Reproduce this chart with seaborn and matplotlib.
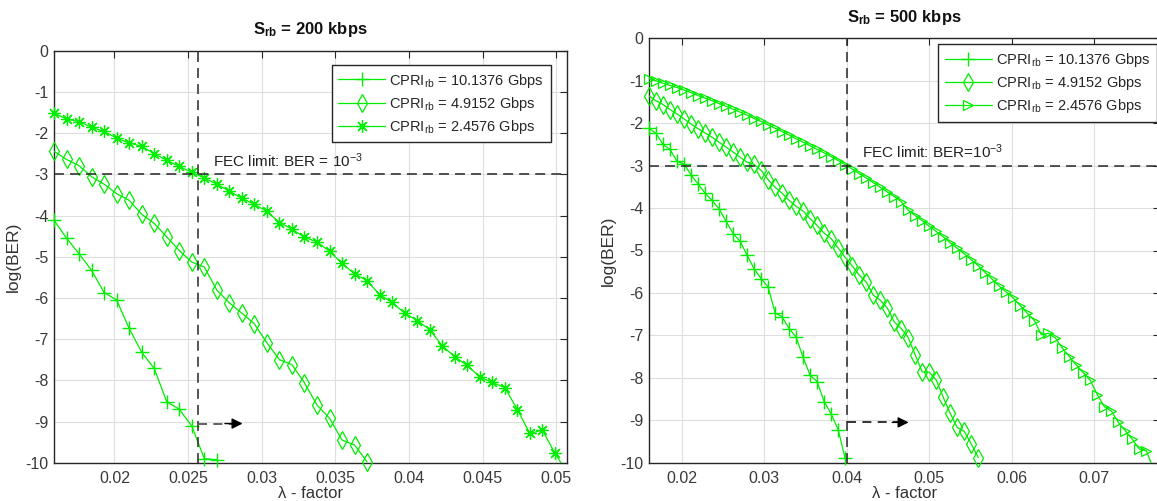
import matplotlib
matplotlib.use("Agg")
import matplotlib.pyplot as plt
from matplotlib.lines import Line2D
import seaborn as sns

# ---------------------------------------------------------------- data
# lambda-factor sweep, S_rb = 200 kbps
lam_200 = [0.01590, 0.01675, 0.01760, 0.01845, 0.01930, 0.02015, 0.02100,
           0.02185, 0.02270, 0.02355, 0.02440, 0.02525, 0.02610, 0.02695,
           0.02780, 0.02865, 0.02950, 0.03035, 0.03120, 0.03205, 0.03290,
           0.03375, 0.03460, 0.03545, 0.03630, 0.03715, 0.03800, 0.03885,
           0.03970, 0.04055, 0.04140, 0.04225, 0.04310, 0.04395, 0.04480,
           0.04565, 0.04650, 0.04735, 0.04820, 0.04905, 0.04990, 0.05075]

# log(BER) for S_rb = 200 kbps
ber_200_10g = [-4.11, -4.55, -4.93, -5.33, -5.87, -6.05, -6.74, -7.32, -7.71,
               -8.52, -8.70, -9.11, -9.90, -9.93]
ber_200_4g = [-2.44, -2.64, -2.79, -3.06, -3.24, -3.47, -3.63, -3.97, -4.19,
              -4.52, -4.85, -5.13, -5.25, -5.81, -6.12, -6.37, -6.63, -7.09,
              -7.50, -7.62, -8.06, -8.60, -8.92, -9.45, -9.57, -9.98]
ber_200_2g = [-1.51, -1.66, -1.72, -1.86, -1.96, -2.12, -2.24, -2.32, -2.50,
              -2.66, -2.81, -2.95, -3.09, -3.24, -3.41, -3.58, -3.73, -3.90,
              -4.17, -4.33, -4.53, -4.64, -4.87, -5.16, -5.42, -5.58, -5.92,
              -6.11, -6.37, -6.55, -6.77, -7.16, -7.43, -7.64, -7.92, -8.05,
              -8.18, -8.71, -9.29, -9.21, -9.77, -10.25]

# lambda-factor sweep, S_rb = 500 kbps
lam_500 = [0.01600, 0.01685, 0.01770, 0.01855, 0.01940, 0.02025, 0.02110,
           0.02195, 0.02280, 0.02365, 0.02450, 0.02535, 0.02620, 0.02705,
           0.02790, 0.02875, 0.02960, 0.03045, 0.03130, 0.03215, 0.03300,
           0.03385, 0.03470, 0.03555, 0.03640, 0.03725, 0.03810, 0.03895,
           0.03980, 0.04065, 0.04150, 0.04235, 0.04320, 0.04405, 0.04490,
           0.04575, 0.04660, 0.04745, 0.04830, 0.04915, 0.05000, 0.05085,
           0.05170, 0.05255, 0.05340, 0.05425, 0.05510, 0.05595, 0.05680,
           0.05765, 0.05850, 0.05935, 0.06020, 0.06105, 0.06190, 0.06275,
           0.06360, 0.06445, 0.06530, 0.06615, 0.06700, 0.06785, 0.06870,
           0.06955, 0.07040, 0.07125, 0.07210, 0.07295, 0.07380, 0.07465,
           0.07550, 0.07635, 0.07720]

# log(BER) for S_rb = 500 kbps
ber_500_10g = [-2.12, -2.24, -2.50, -2.62, -2.90, -2.96, -3.22, -3.43, -3.65,
               -3.82, -4.02, -4.31, -4.60, -4.78, -5.11, -5.43, -5.66, -5.86,
               -6.47, -6.56, -6.84, -7.04, -7.52, -7.94, -8.09, -8.56, -8.85,
               -9.22, -9.90]
ber_500_4g = [-1.36, -1.47, -1.56, -1.68, -1.78, -1.90, -2.02, -2.13, -2.23,
              -2.33, -2.45, -2.56, -2.68, -2.80, -2.92, -2.97, -3.11, -3.33,
              -3.51, -3.65, -3.82, -3.96, -4.07, -4.25, -4.41, -4.59, -4.72,
              -4.94, -5.16, -5.36, -5.58, -5.74, -6.05, -6.17, -6.35, -6.68,
              -6.84, -7.05, -7.46, -7.86, -7.87, -8.05, -8.46, -8.84, -9.17,
              -9.26, -9.56, -9.88]
ber_500_2g = [-0.95, -1.00, -1.06, -1.11, -1.16, -1.22, -1.28, -1.35, -1.41,
              -1.47, -1.54, -1.60, -1.67, -1.74, -1.81, -1.89, -1.96, -2.04,
              -2.12, -2.20, -2.28, -2.37, -2.45, -2.53, -2.62, -2.70, -2.79,
              -2.88, -2.98, -3.08, -3.19, -3.29, -3.40, -3.51, -3.62, -3.73,
              -3.85, -4.05, -4.18, -4.30, -4.43, -4.55, -4.68, -4.82, -4.95,
              -5.08, -5.22, -5.36, -5.52, -5.68, -5.84, -5.98, -6.12, -6.30,
              -6.48, -6.65, -6.98, -6.95, -7.06, -7.30, -7.50, -7.70, -7.88,
              -8.06, -8.40, -8.68, -8.78, -9.05, -9.25, -9.45, -9.68, -9.72,
              -10.15]

series_labels = [r"CPRI$_{\mathrm{rb}}$ = 10.1376 Gbps",
                 r"CPRI$_{\mathrm{rb}}$ = 4.9152 Gbps",
                 r"CPRI$_{\mathrm{rb}}$ = 2.4576 Gbps"]

titles = [r"S$_{\mathbf{rb}}$ = 200 kbps", r"S$_{\mathbf{rb}}$ = 500 kbps"]
fec_texts = [r"FEC limit: BER = 10$^{-3}$", r"FEC limit: BER=10$^{-3}$"]

fec_limit = -3.0
lam_cut = [0.0257, 0.0400]          # lambda at which the 2.4576 Gbps curve meets the FEC limit
arrow_level = -9.05
arrow_end = [0.0287, 0.0475]
fec_text_pos = [(0.0267, -2.82), (0.0419, -2.83)]

xticks_200 = [0.02, 0.025, 0.03, 0.035, 0.04, 0.045, 0.05]
xticklabels_200 = ["0.02", "0.025", "0.03", "0.035", "0.04", "0.045", "0.05"]
xticks_500 = [0.02, 0.03, 0.04, 0.05, 0.06, 0.07]
xticklabels_500 = ["0.02", "0.03", "0.04", "0.05", "0.06", "0.07"]
yticks = [0, -1, -2, -3, -4, -5, -6, -7, -8, -9, -10]
yticklabels = ["0", "-1", "-2", "-3", "-4", "-5", "-6", "-7", "-8", "-9", "-10"]

# ---------------------------------------------------------------- style
sns.set_theme(style="whitegrid")
plt.rcParams["font.family"] = ["Liberation Sans", "DejaVu Sans"]
plt.rcParams["mathtext.fontset"] = "custom"
plt.rcParams["mathtext.rm"] = "Liberation Sans"
plt.rcParams["mathtext.it"] = "Liberation Sans:italic"
plt.rcParams["mathtext.bf"] = "Liberation Sans:bold"
plt.rcParams["axes.unicode_minus"] = False

GREEN = "#00ee00"
DARK = "#262626"
TICK_TXT = "#3a3a3a"

W, H = 1157, 501
fig = plt.figure(figsize=(W / 100, H / 100), dpi=100)
fig.patch.set_facecolor("white")

# axes boxes in pixels: left, right, top, bottom
boxes = [(54, 566.7, 50.7, 462.7), (649, 1160, 38.3, 462.7)]
axes = []
for l, r, t, b in boxes:
    axes.append(fig.add_axes([l / W, (H - b) / H, (r - l) / W, (b - t) / H]))

marker_styles = [
    [dict(marker="+", markersize=9.5, mew=1.0),
     dict(marker="d", markersize=9, mew=0.9, mfc="none"),
     dict(marker=(8, 2, 0), markersize=9, mew=0.9)],
    [dict(marker="+", markersize=9.5, mew=1.0),
     dict(marker="d", markersize=9, mew=0.9, mfc="none"),
     dict(marker=">", markersize=7.5, mew=0.9, mfc="none")],
]

panels = [
    (lam_200, [ber_200_10g, ber_200_4g, ber_200_2g], (0.0159, 0.0507),
     xticks_200, xticklabels_200, (0.5416, 0.9653)),
    (lam_500, [ber_500_10g, ber_500_4g, ber_500_2g], (0.0160, 0.0780),
     xticks_500, xticklabels_500, (0.5662, 0.9859)),
]

for i, (ax, (lam, curves, xlim, xt, xtl, leg_anchor)) in enumerate(zip(axes, panels)):
    ax.set_facecolor("white")
    handles = []
    for ber, mst in zip(curves, marker_styles[i]):
        x = lam[:len(ber)]
        # connecting line (clipped to the axes)
        sns.lineplot(x=x, y=ber, ax=ax, color=GREEN, lw=0.9, sort=False,
                     estimator=None, zorder=3)
        # markers drawn unclipped for the points inside the y range
        keep = [k for k, v in enumerate(ber) if v >= -10]
        sns.lineplot(x=[x[k] for k in keep], y=[ber[k] for k in keep], ax=ax,
                     color=GREEN, linestyle="none", sort=False, estimator=None,
                     mec=GREEN, clip_on=False, zorder=4, **mst)
        handles.append(Line2D([], [], color=GREEN, lw=0.9, mec=GREEN, **mst))

    # FEC limit and the corresponding lambda
    ax.axhline(fec_limit, color=DARK, lw=1.1, dashes=(6.5, 4), zorder=5)
    ax.axvline(lam_cut[i], color=DARK, lw=1.1, dashes=(6.5, 4), zorder=5)
    ax.plot([lam_cut[i], arrow_end[i] - (0.0006 if i == 0 else 0.0012)],
            [arrow_level, arrow_level],
            color="#555555" if i == 0 else DARK, lw=1.3, dashes=(5, 3.5), zorder=5)
    ax.annotate("", xy=(arrow_end[i], arrow_level),
                xytext=(arrow_end[i] - (0.0012 if i == 0 else 0.0020), arrow_level),
                arrowprops=dict(arrowstyle="-|>", color="black", lw=1.0,
                                mutation_scale=16, shrinkA=0, shrinkB=0),
                zorder=6)
    ax.text(*fec_text_pos[i], fec_texts[i], fontsize=11, color="#222222",
            ha="left", va="baseline", zorder=6)

    ax.set_xlim(*xlim)
    ax.set_ylim(-10, 0)
    ax.set_xticks(xt)
    ax.set_xticklabels(xtl)
    ax.set_yticks(yticks)
    ax.set_yticklabels(yticklabels)
    ax.grid(True, color="#dedede", lw=0.8)
    ax.tick_params(direction="in", length=5, width=0.8, color=DARK,
                   top=True, right=True, labelsize=11.5, labelcolor=TICK_TXT)
    ax.tick_params(axis="x", pad=6)
    ax.tick_params(axis="y", pad=4)
    for sp in ax.spines.values():
        sp.set_visible(True)
        sp.set_color(DARK)
        sp.set_linewidth(1.0)

    ax.set_title(titles[i], fontsize=12, fontweight="bold", color="#111111", pad=12)
    ax.set_xlabel("λ - factor", fontsize=12, color="#333333", labelpad=0)
    ax.set_ylabel("log(BER)", fontsize=12.5, color="#333333", labelpad=3)

    leg = ax.legend(handles, series_labels, loc="upper left",
                    bbox_to_anchor=leg_anchor, borderaxespad=0, fontsize=10.5,
                    frameon=True, fancybox=False, framealpha=1,
                    edgecolor=DARK, handlelength=3.2, handletextpad=0.3,
                    labelspacing=0.35, borderpad=0.45)
    leg.get_frame().set_linewidth(1.0)
    leg.set_zorder(10)

fig.savefig("out.png", dpi=100, facecolor="white")
